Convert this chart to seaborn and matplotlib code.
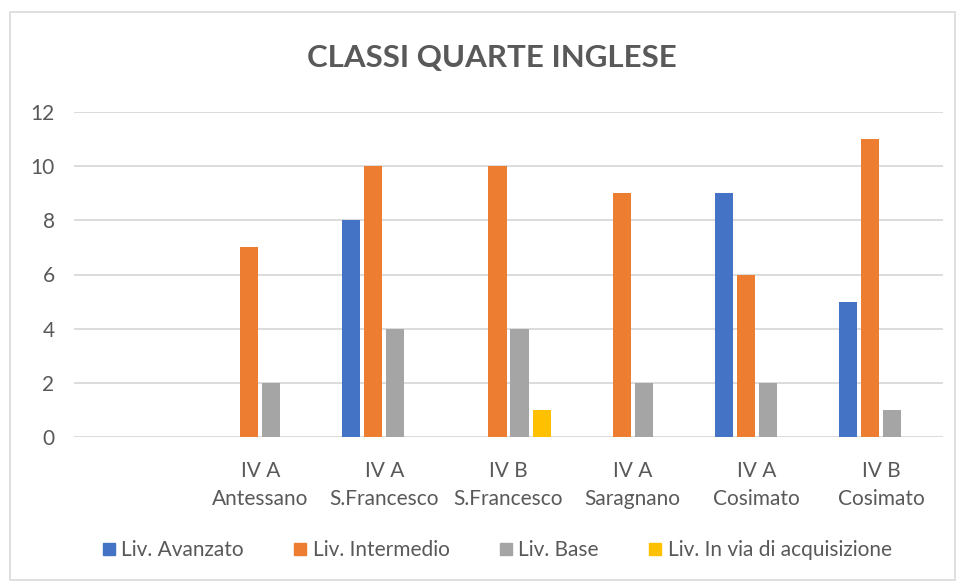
import matplotlib
matplotlib.use("Agg")
import matplotlib.pyplot as plt
import seaborn as sns
import pandas as pd
from matplotlib.patches import Rectangle
from matplotlib.lines import Line2D

classes = ["IV A\nAntessano", "IV A\nS.Francesco", "IV B\nS.Francesco",
           "IV A\nSaragnano", "IV A\nCosimato", "IV B\nCosimato"]
order = [""] + classes
series = ["Liv. Avanzato", "Liv. Intermedio", "Liv. Base", "Liv. In via di acquisizione"]
avanzato = [0, 8, 0, 0, 9, 5]
intermedio = [7, 10, 10, 9, 6, 11]
base = [2, 4, 4, 2, 2, 1]
acquisizione = [0, 0, 1, 0, 0, 0]
colors = ["#4472C4", "#ED7D31", "#A5A5A5", "#FFC000"]
title = "CLASSI QUARTE INGLESE"

rows = []
for s, vals in zip(series, [avanzato, intermedio, base, acquisizione]):
    for c, v in zip(classes, vals):
        rows.append({"classe": c, "livello": s, "valore": v})
df = pd.DataFrame(rows)

sns.set_theme(style="white")
plt.rcParams["font.family"] = ["Lato", "DejaVu Sans"]
txt = "#595959"

fig = plt.figure(figsize=(9.65, 5.85), dpi=100)
ax = fig.add_axes([74/965, 1-437/585, (943-74)/965, (437-112)/585])
sns.barplot(data=df, x="classe", y="valore", hue="livello", order=order,
            hue_order=series, palette=colors, saturation=1, width=0.71, gap=0.18,
            linewidth=0, ax=ax, legend=False)
ax.set_ylim(0, 12)
ax.set_xlim(-0.5, 6.5)
ax.set_yticks(range(0, 13, 2))
ax.yaxis.grid(True, color="#D9D9D9", linewidth=1.3)
ax.set_axisbelow(True)
for sp in ax.spines.values():
    sp.set_visible(False)
ax.set_xlabel("")
ax.set_ylabel("")
ax.tick_params(axis="both", length=0, colors=txt, labelsize=15)
ax.tick_params(axis="y", pad=14)
ax.tick_params(axis="x", pad=17)
for lab in ax.get_xticklabels():
    lab.set_linespacing(1.55)

fig.text(492/965, 1-58/585, title, ha="center", va="center",
         fontsize=22.5, fontweight="bold", color=txt)

handles = [Line2D([], [], marker="s", linestyle="none", markersize=8.5,
                  markerfacecolor=c, markeredgecolor=c) for c in colors]
fig.legend(handles, series, loc="center", bbox_to_anchor=(497/965, 1-550/585),
           ncol=4, frameon=False, fontsize=15, labelcolor=txt,
           handlelength=0.6, handletextpad=0.3, columnspacing=2.4)

fig.patches.append(Rectangle((10/965, 1-580/585), 945/965, 568/585,
                             transform=fig.transFigure, fill=False,
                             edgecolor="#D9D9D9", linewidth=1.2))
fig.savefig("out.png", dpi=100)
